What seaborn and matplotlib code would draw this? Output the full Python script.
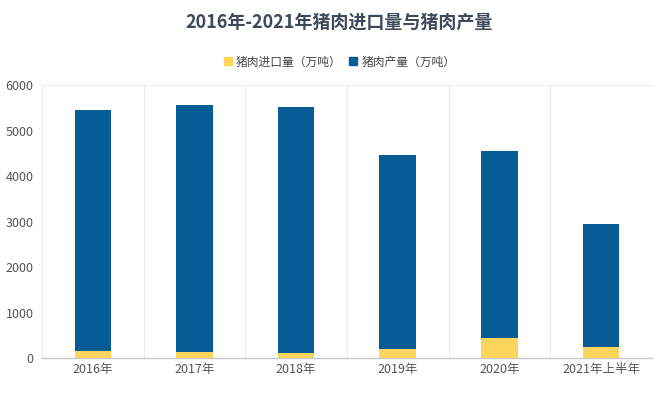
import matplotlib
matplotlib.use("Agg")
import matplotlib.pyplot as plt
import seaborn as sns
import pandas as pd
from matplotlib.lines import Line2D

# data (万吨)
years = ["2016年", "2017年", "2018年", "2019年", "2020年", "2021年上半年"]
imports = [162, 122, 119, 199, 430, 237]
production = [5299, 5452, 5404, 4255, 4113, 2715]

c_imp = "#fdd55c"
c_prod = "#065c94"

df = pd.DataFrame({"year": years, "imports": imports, "production": production})
df["total"] = df["imports"] + df["production"]

sns.set_theme(style="white")
plt.rcParams["font.family"] = ["Noto Sans CJK SC", "DejaVu Sans"]

fig = plt.figure(figsize=(6.72, 3.98), dpi=100)
ax = fig.add_axes([0.0625, 0.1005, 0.9075, 0.6855])

# stacked: total in blue, imports drawn over it in yellow
sns.barplot(data=df, x="year", y="total", color=c_prod, width=0.36,
            saturation=1, linewidth=0, ax=ax, zorder=2)
sns.barplot(data=df, x="year", y="imports", color=c_imp, width=0.36,
            saturation=1, linewidth=0, ax=ax, zorder=3)

ax.set_ylim(0, 6000)
ax.set_xlim(-0.5, len(years) - 0.5)
ax.set_yticks(range(0, 6001, 1000))
ax.set_xlabel("")
ax.set_ylabel("")

# category separators
for b in range(len(years) + 1):
    ax.axvline(b - 0.5, color="#ececec", lw=0.8, zorder=0)
ax.axhline(6000, color="#ececec", lw=0.8, zorder=0)

for s in ["top", "right", "left"]:
    ax.spines[s].set_visible(False)
ax.spines["bottom"].set_color("#c8c8c8")
ax.spines["bottom"].set_linewidth(1.0)
ax.tick_params(axis="both", length=0, labelsize=9, colors="#555555")
ax.tick_params(axis="y", pad=6)

fig.text(0.505, 0.945, "2016年-2021年猪肉进口量与猪肉产量", ha="center", va="center",
         fontsize=13, fontweight="bold", color="#3e4a5c")

handles = [
    Line2D([], [], marker="s", linestyle="", color=c_imp, markersize=5.5),
    Line2D([], [], marker="s", linestyle="", color=c_prod, markersize=5.5),
]
fig.legend(handles, ["猪肉进口量（万吨）", "猪肉产量（万吨）"], loc="center",
           bbox_to_anchor=(0.505, 0.844), ncol=2, frameon=False, fontsize=8.5,
           handlelength=0.8, handletextpad=0.3, columnspacing=0.6,
           labelcolor="#444444")

fig.savefig("out.png", dpi=100)
